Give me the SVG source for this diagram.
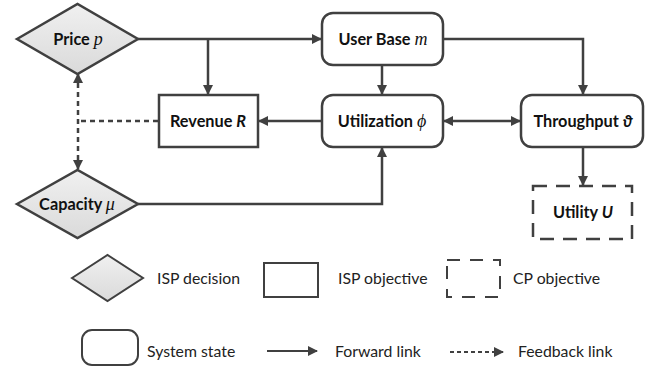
<svg xmlns="http://www.w3.org/2000/svg" width="661" height="368" viewBox="0 0 661 368">
<defs>
<style>
.box{fill:#ffffff;stroke:#404040;stroke-width:2.5}
.dia{stroke:#404040;stroke-width:2.5}
.dash{fill:#ffffff;stroke:#404040;stroke-width:2.5;stroke-dasharray:14 9}
.ln{fill:none;stroke:#404040;stroke-width:2.5}
.fb{fill:none;stroke:#404040;stroke-width:2.5;stroke-dasharray:5 4}
.lbl{font-family:Lato,"Liberation Sans",sans-serif;font-weight:bold;font-size:16.3px;fill:#111;text-anchor:middle}
.leg{font-family:Lato,"Liberation Sans",sans-serif;font-size:15.8px;fill:#222}
.m{font-family:"Liberation Serif",serif;font-style:italic;font-weight:normal;font-size:18px}
.bi{font-style:italic}
</style>
<marker id="ah" viewBox="0 0 10 10" refX="9" refY="5" markerWidth="10" markerHeight="10" markerUnits="userSpaceOnUse" orient="auto-start-reverse">
<path d="M0,0 L10,5 L0,10 Z" fill="#404040"/>
</marker>
<linearGradient id="g" x1="0" y1="0" x2="0" y2="1">
<stop offset="0" stop-color="#f0f0f0"/>
<stop offset="1" stop-color="#dadada"/>
</linearGradient>
</defs>
<rect width="661" height="368" fill="#ffffff"/>

<g id="connectors">
<path class="ln" d="M138,39 H321" marker-end="url(#ah)"/>
<path class="ln" d="M208,39 V94" marker-end="url(#ah)"/>
<path class="ln" d="M382,65 V94" marker-end="url(#ah)"/>
<path class="ln" d="M443,39 H583 V94" marker-end="url(#ah)"/>
<path class="ln" d="M322,121 H259" marker-end="url(#ah)"/>
<path class="ln" d="M444,121 H520" marker-start="url(#ah)" marker-end="url(#ah)"/>
<path class="ln" d="M583,147 V185" marker-end="url(#ah)"/>
<path class="ln" d="M138,204 H382 V148" marker-end="url(#ah)"/>
<path class="fb" d="M158,121 H78"/>
<path class="fb" d="M78,74 V169" marker-start="url(#ah)" marker-end="url(#ah)"/>
</g>

<g id="price">
<polygon class="dia" fill="url(#g)" points="17,39 77.5,4 138,39 77.5,74"/>
<text class="lbl" x="78" y="45">Price <tspan class="m">p</tspan></text>
</g>
<g id="capacity">
<polygon class="dia" fill="url(#g)" points="17,204 77.5,170 138,204 77.5,238"/>
<text class="lbl" x="77" y="210">Capacity <tspan class="m">μ</tspan></text>
</g>
<g id="userbase">
<rect class="box" x="322" y="13" width="121" height="52" rx="11"/>
<text class="lbl" x="383" y="45">User Base <tspan class="m">m</tspan></text>
</g>
<g id="revenue">
<rect class="box" x="159" y="95" width="99" height="52"/>
<text class="lbl" x="208" y="127">Revenue <tspan class="bi">R</tspan></text>
</g>
<g id="utilization">
<rect class="box" x="322" y="95" width="121" height="52" rx="11"/>
<text class="lbl" x="382" y="127">Utilization <tspan class="m">ϕ</tspan></text>
</g>
<g id="throughput">
<rect class="box" x="521" y="95" width="122" height="52" rx="11"/>
<text class="lbl" x="583" y="127">Throughput <tspan class="bi">ϑ</tspan></text>
</g>
<g id="utility">
<rect class="dash" x="533" y="186" width="99" height="53"/>
<text class="lbl" x="583" y="218">Utility <tspan class="bi">U</tspan></text>
</g>

<g id="legend">
<polygon class="dia" fill="url(#g)" points="72,278 107.5,255 143,278 107.5,301" style="stroke-width:2"/>
<text class="leg" x="157" y="284">ISP decision</text>
<rect class="box" x="264" y="263" width="54" height="34" style="stroke-width:2"/>
<text class="leg" x="338" y="284">ISP objective</text>
<rect class="dash" x="447" y="260" width="53" height="37" style="stroke-width:2;stroke-dasharray:13 10"/>
<text class="leg" x="513" y="284">CP objective</text>
<rect class="box" x="82" y="330" width="56" height="35" rx="10" style="stroke-width:2"/>
<text class="leg" x="147" y="357">System state</text>
<path class="ln" d="M267,351 H317" marker-end="url(#ah)" style="stroke-width:2"/>
<text class="leg" x="335" y="357">Forward link</text>
<path class="fb" d="M450,352 H503" marker-end="url(#ah)" style="stroke-width:2;stroke-dasharray:4 3"/>
<text class="leg" x="518" y="357">Feedback link</text>
</g>
</svg>
